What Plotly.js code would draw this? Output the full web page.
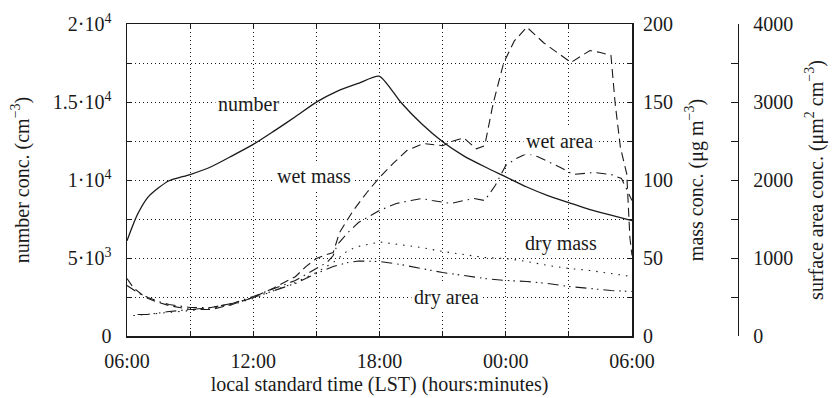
<!DOCTYPE html>
<html>
<head>
<meta charset="utf-8">
<script src="https://cdn.plot.ly/plotly-3.0.1.min.js"></script>
<style>html,body{margin:0;padding:0;background:#fff;}#chart{width:835px;height:398px;}</style>
</head>
<body>
<div id="chart"></div>
<script>
// time in hours after 06:00 LST
var tickHours = [0, 6, 12, 18, 24];
var tickLabels = ['06:00', '12:00', '18:00', '00:00', '06:00'];

// number concentration (cm^-3), solid
var tNumber = [0, 0.25, 0.5, 1, 1.5, 2, 3, 4, 5, 6, 7, 8, 9, 10, 11, 12, 13, 14, 15, 16, 17, 18, 19, 20, 21, 22, 23, 24];
var numberConc = [6100, 7000, 7800, 8900, 9500, 9950, 10350, 10850, 11550, 12280, 13150, 14050, 14990, 15700, 16200, 16650, 15000, 13600, 12450, 11550, 10850, 10200, 9550, 9000, 8550, 8100, 7750, 7400];

// wet mass (ug m^-3), dashed
var tWetMass = [0, 0.3, 0.7, 1, 1.5, 2, 3, 4, 5, 6, 7, 8, 8.5, 9, 9.5, 9.8, 10.1, 10.75, 11.4, 12, 12.65, 13.3, 14.1, 15, 15.5, 16, 16.6, 17, 17.4, 17.9, 18.4, 19, 19.8, 20.6, 21.1, 22, 22.5, 23, 23.2, 23.45, 23.75, 23.9, 24];
var wetMass = [36.9, 31, 26.6, 24, 21.5, 19.5, 17, 17, 20.2, 24.7, 31, 38, 44.5, 49.7, 52.2, 53.5, 66.3, 80.4, 92, 101.6, 110.6, 118.9, 123.4, 122, 125, 127, 120, 122, 149, 175, 189, 198, 188, 180, 175.3, 183, 181.7, 179.8, 149, 120.8, 104, 63, 51.6];

// wet surface area (um^2 cm^-3), dash-dot
var tWetArea = [0, 0.5, 1, 1.5, 2, 3, 4, 5, 6, 7, 8, 8.5, 9, 9.5, 9.8, 10, 10.5, 11, 12, 12.8, 13.5, 14, 14.5, 15.4, 16, 16.5, 17, 17.5, 18, 18.5, 19, 19.5, 20, 20.6, 21.2, 22.2, 23, 23.5, 24];
var wetArea = [647, 558, 494, 442, 404, 365, 365, 417, 506, 609, 712, 788, 865, 942, 1032, 1173, 1327, 1455, 1609, 1699, 1737, 1763, 1737, 1699, 1737, 1763, 1737, 1929, 2186, 2276, 2340, 2301, 2237, 2160, 2071, 2096, 2071, 2019, 1737];

// dry mass (ug m^-3), dotted
var tDryMass = [0.3, 1, 2, 3, 4, 5, 6, 7, 8, 9, 9.8, 10.5, 11, 12, 13, 14, 15, 16, 17, 18, 19, 20, 21, 22, 23, 24];
var dryMass = [13.1, 13.8, 15.1, 16.3, 17.6, 20.2, 24, 29.2, 34.3, 40.7, 47.1, 54.8, 57.4, 60.3, 58.3, 56.7, 54.2, 52.2, 50.3, 49.7, 47.8, 45.2, 43.3, 42, 40, 38.1];

// dry surface area (um^2 cm^-3), dash-dot-dot
var tDryArea = [0.5, 1, 2, 3, 4, 5, 6, 7, 8, 9, 9.8, 10.5, 11, 12, 13, 14, 15, 16, 17, 18, 19, 20, 21, 22, 23, 24];
var dryArea = [276, 276, 314, 340, 365, 417, 494, 583, 673, 801, 891, 942, 962, 955, 917, 865, 814, 776, 737, 712, 699, 673, 635, 609, 583, 571];

// axis tick labels
var numTickVals = [0, 5000, 10000, 15000, 20000];
var numTickText = ['0', '5·10<sup>3</sup>', '1·10<sup>4</sup>', '1.5·10<sup>4</sup>', '2·10<sup>4</sup>'];
var massTickVals = [0, 50, 100, 150, 200];
var massTickText = ['0', '50', '100', '150', '200'];
var areaTickVals = [0, 1000, 2000, 3000, 4000];
var areaTickText = ['0', '1000', '2000', '3000', '4000'];

var ink = '#1a1a1a';
var traces = [
  {x: tNumber, y: numberConc, name: 'number', mode: 'lines', line: {color: ink, width: 1.3, shape: 'spline', smoothing: 0.6}, yaxis: 'y'},
  {x: tWetMass, y: wetMass, name: 'wet mass', mode: 'lines', line: {color: ink, width: 1.1, dash: '9px,5px'}, yaxis: 'y2'},
  {x: tWetArea, y: wetArea, name: 'wet area', mode: 'lines', line: {color: ink, width: 1.1, dash: '10px,5px,1.5px,5px'}, yaxis: 'y3'},
  {x: tDryMass, y: dryMass, name: 'dry mass', mode: 'lines', line: {color: ink, width: 1.1, dash: '1.5px,6px'}, yaxis: 'y2'},
  {x: tDryArea, y: dryArea, name: 'dry area', mode: 'lines', line: {color: ink, width: 1.1, dash: '11px,5px,1.5px,4px,1.5px,5px'}, yaxis: 'y3'}
];

var F = {family: '"Liberation Serif", "Times New Roman", Times, serif', size: 20, color: ink};
var pw = 611;
function px(v) { return (v - 127) / pw; }
function py(v) { return (335.5 - v) / 312; }
var gridDash = '1px,3px';

var layout = {
  width: 835, height: 398,
  margin: {l: 127, r: 97, t: 24, b: 62, pad: 0},
  paper_bgcolor: '#fff', plot_bgcolor: '#fff',
  font: F,
  showlegend: false,
  xaxis: {
    domain: [0, 505 / 611], range: [0, 24],
    tickmode: 'array', tickvals: tickHours, ticktext: tickLabels,
    ticks: 'inside', ticklen: 5, tickcolor: ink, tickwidth: 1,
    minor: {dtick: 3, ticks: 'inside', ticklen: 5, tickcolor: ink, showgrid: true, gridcolor: ink, gridwidth: 1, griddash: gridDash},
    showline: true, linecolor: ink, linewidth: 1.5, mirror: 'ticks',
    showgrid: true, gridcolor: ink, gridwidth: 1, griddash: gridDash,
    zeroline: false, tickfont: F, ticklabelstandoff: 6,
    title: {text: 'local standard time (LST) (hours:minutes)', font: F, standoff: 6}
  },
  yaxis: {
    range: [0, 20000],
    tickmode: 'array', tickvals: numTickVals, ticktext: numTickText,
    ticks: 'inside', ticklen: 5, tickcolor: ink,
    minor: {dtick: 2500, ticks: 'inside', ticklen: 5, tickcolor: ink, showgrid: true, gridcolor: ink, gridwidth: 1, griddash: gridDash},
    showline: true, linecolor: ink, linewidth: 1.5, mirror: 'ticks',
    showgrid: true, gridcolor: ink, gridwidth: 1, griddash: gridDash,
    zeroline: false, tickfont: F, ticklabelstandoff: 10,
    title: {text: 'number conc. (cm<sup>−3</sup>)', font: F, standoff: 18}
  },
  yaxis2: {
    overlaying: 'y', side: 'right', anchor: 'x', range: [0, 200],
    tickmode: 'array', tickvals: massTickVals, ticktext: massTickText,
    ticks: 'inside', ticklen: 5, tickcolor: ink,
    minor: {dtick: 25, ticks: 'inside', ticklen: 5, tickcolor: ink, showgrid: false},
    showline: false, showgrid: false, zeroline: false,
    tickfont: F, ticklabelstandoff: 10,
    title: {text: 'mass conc. (μg m<sup>−3</sup>)', font: F, standoff: 16}
  },
  yaxis3: {
    overlaying: 'y', side: 'right', anchor: 'free', position: 1, range: [0, 4000],
    tickmode: 'array', tickvals: areaTickVals, ticktext: areaTickText,
    ticks: 'inside', ticklen: 7, tickcolor: ink,
    minor: {dtick: 500, ticks: 'inside', ticklen: 7, tickcolor: ink, showgrid: false},
    showline: true, linecolor: ink, linewidth: 1.2, showgrid: false, zeroline: false,
    tickfont: F, ticklabelstandoff: 10,
    title: {text: 'surface area conc. (μm<sup>2</sup> cm<sup>−3</sup>)', font: F, standoff: 16}
  },
  annotations: [
    {text: 'number', x: px(248), y: py(103)},
    {text: 'wet mass', x: px(314), y: py(175)},
    {text: 'wet area', x: px(559), y: py(140)},
    {text: 'dry mass', x: px(561), y: py(243)},
    {text: 'dry area', x: px(446), y: py(297)}
  ].map(function (a) {
    return Object.assign({xref: 'paper', yref: 'paper', showarrow: false, font: F, bgcolor: '#fff', borderpad: 2, xanchor: 'center', yanchor: 'middle'}, a);
  })
};

Plotly.newPlot('chart', traces, layout, {displayModeBar: false, staticPlot: true});
</script>
</body>
</html>
